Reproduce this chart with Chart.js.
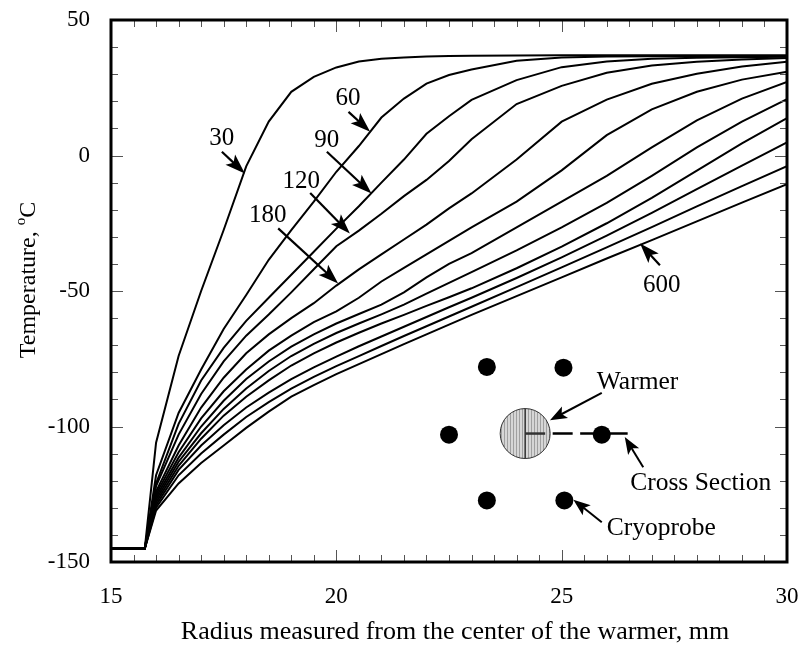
<!DOCTYPE html>
<html><head><meta charset="utf-8">
<script src="https://cdn.jsdelivr.net/npm/chart.js@4/dist/chart.umd.min.js"></script>
<style>html,body{margin:0;padding:0;background:#fff}#wrap{width:804px;height:652px}</style>
</head><body><div id="wrap"><canvas id="c" width="804" height="652"></canvas></div>
<script>
// ---- data (radius in mm, temperature in deg C) ----
const radiusMm = [15, 15.75, 16, 16.5, 17, 17.5, 18, 18.5, 19, 19.5, 20, 20.5, 21, 21.5, 22, 22.5, 23, 24, 25, 26, 27, 28, 29, 30];
const temp030 = [-145,-145,-106,-74,-50,-27.5,-4,12.5,23.5,29,32.5,34.7,35.7,36.2,36.5,36.7,36.8,36.9,37,37,37,37,37,37];
const temp060 = [-145,-145,-118,-95,-79,-64,-51.5,-38.5,-27.5,-17,-6,3.5,14,21,26.5,29.7,31.7,35,36.2,36.5,36.6,36.7,36.7,36.7];
const temp090 = [-145,-145,-121,-99,-83,-71,-61,-52.5,-44,-35.5,-27,-18.7,-10,-1.5,8,14.5,20.5,27.8,32.6,34.7,35.7,36.1,36.3,36.4];
const temp120 = [-145,-145,-122,-103,-88,-76,-66.5,-58.7,-50.5,-42,-33.5,-27.7,-21.5,-15,-9,-2,6,19,25.7,30.5,33.2,34.6,35.4,36];
const temp180 = [-145,-145,-124,-107,-93,-82,-73,-66,-60,-54.5,-48,-42,-36.5,-31,-25.5,-19.5,-14,-1.5,12.5,20.6,26.5,30.2,32.8,34.6];
const temp240 = [-145,-145,-125,-109.5,-97,-87,-79,-72,-66.5,-61.5,-57.5,-52.5,-46.5,-41.5,-36.5,-31.5,-26.5,-17,-5.5,7.5,17,23.5,28,30.9];
const temp300 = [-145,-145,-126,-111.5,-100,-90.5,-82.5,-76,-70.5,-66,-62,-58.5,-55,-50.5,-45,-40,-36,-26.5,-17,-7.5,3,13,21,27.1];
const temp360 = [-145,-145,-127,-113,-102.5,-93.5,-86,-79.5,-74,-69.5,-65.5,-62,-58.6,-55,-51,-47,-43,-35,-26.5,-17.5,-7.5,3,12.5,20.8];
const temp420 = [-145,-145,-128,-114.5,-104.5,-96,-89,-83,-77.5,-73,-69,-65.4,-62,-58.8,-55.5,-52.3,-49,-41.6,-33.6,-25,-15.6,-5.6,4.5,13.8];
const temp480 = [-145,-145,-129,-116,-107,-99.5,-93,-87.5,-82.5,-78.2,-74.2,-70.4,-66.8,-63.2,-59.6,-56,-52.5,-45.2,-37.6,-29.6,-21.2,-12.4,-3.7,4.8];
const temp540 = [-145,-145,-130,-118,-110,-103,-96.5,-91,-86,-81.7,-77.7,-74,-70.3,-66.6,-63,-59.4,-55.8,-48.6,-41.3,-33.9,-26.4,-18.8,-11.3,-3.9];
const temp600 = [-145,-145,-131,-121,-113.5,-107,-100.5,-94.5,-89,-84.7,-80.7,-77,-73.3,-69.6,-66,-62.4,-58.8,-51.9,-45,-38,-31.2,-24.3,-17.4,-10.6];
const timeLabels = ['30','60','90','120','180','240','300','360','420','480','540','600'];
const xTickValues = [15, 20, 25, 30];
const yTickValues = [-150, -100, -50, 0, 50];
const xTitle = 'Radius measured from the center of the warmer, mm';
const yTitleMain = 'Temperature, ';
const yTitleSup = 'o';
const yTitleUnit = 'C';

const series = [temp030,temp060,temp090,temp120,temp180,temp240,temp300,temp360,temp420,temp480,temp540,temp600];
const FONT = "'Liberation Serif', 'Times New Roman', serif";

// annotation layout (in data units of the axes)
const curveNotes = [
  {text:'30',  tx:17.46, ty:6.4,   ax:[17.46,1.4,  17.97,-6.6]},
  {text:'60',  tx:20.26, ty:21.2,  ax:[20.27,16.1, 20.75,8.8]},
  {text:'90',  tx:19.79, ty:5.7,   ax:[19.79,1.4,  20.78,-14.0]},
  {text:'120', tx:19.22, ty:-9.7,  ax:[19.42,-13.8,20.30,-28.8]},
  {text:'180', tx:18.48, ty:-22.0, ax:[18.71,-26.9,20.04,-47.2]},
  {text:'600', tx:27.22, ty:-47.9, ax:[27.18,-40.5,26.74,-32.5]}
];

function arrow(ctx, x1, y1, x2, y2, headLen, headW, lw) {
  const ang = Math.atan2(y2 - y1, x2 - x1);
  const c = Math.cos(ang), s = Math.sin(ang);
  const bx = x2 - c * headLen, by = y2 - s * headLen;
  ctx.lineWidth = lw; ctx.lineCap = 'butt';
  ctx.beginPath(); ctx.moveTo(x1, y1); ctx.lineTo(x2 - c * headLen * 0.6, y2 - s * headLen * 0.6); ctx.stroke();
  ctx.beginPath();
  ctx.moveTo(x2, y2);
  ctx.lineTo(bx - s * headW, by + c * headW);
  ctx.lineTo(x2 - c * headLen * 0.78, y2 - s * headLen * 0.78);
  ctx.lineTo(bx + s * headW, by - c * headW);
  ctx.closePath(); ctx.fill();
}

const decor = {
  id: 'decor',
  afterDraw(chart) {
    const ctx = chart.ctx, xa = chart.scales.x, ya = chart.scales.y, ca = chart.chartArea;
    const X = v => xa.getPixelForValue(v), Y = v => ya.getPixelForValue(v);
    ctx.save();
    // inner ticks
    ctx.strokeStyle = '#555'; ctx.lineWidth = 1;
    for (let i = 0; i <= 30; i++) {
      const v = 15 + i * 0.5, L = (i % 10 === 0) ? 12 : 7, px = Math.round(X(v)) + 0.5;
      ctx.beginPath(); ctx.moveTo(px, ca.bottom); ctx.lineTo(px, ca.bottom - L);
      ctx.moveTo(px, ca.top); ctx.lineTo(px, ca.top + L); ctx.stroke();
    }
    for (let i = 0; i <= 20; i++) {
      const v = -150 + i * 10, L = (i % 5 === 0) ? 12 : 7, py = Math.round(Y(v)) + 0.5;
      ctx.beginPath(); ctx.moveTo(ca.left, py); ctx.lineTo(ca.left + L, py);
      ctx.moveTo(ca.right, py); ctx.lineTo(ca.right - L, py); ctx.stroke();
    }
    // frame
    ctx.strokeStyle = '#000'; ctx.lineWidth = 3;
    ctx.strokeRect(ca.left, ca.top, ca.right - ca.left, ca.bottom - ca.top);

    // axis titles
    ctx.fillStyle = '#000';
    ctx.font = '26px ' + FONT; ctx.textAlign = 'center'; ctx.textBaseline = 'middle';
    ctx.fillText(xTitle, 455, 632);
    ctx.save();
    ctx.translate(27, 280); ctx.rotate(-Math.PI / 2);
    ctx.font = '24px ' + FONT;
    const w1 = ctx.measureText(yTitleMain).width;
    ctx.font = '15px ' + FONT; const w2 = ctx.measureText(yTitleSup).width;
    ctx.font = '24px ' + FONT; const w3 = ctx.measureText(yTitleUnit).width;
    let sx = -(w1 + w2 + w3) / 2;
    ctx.textAlign = 'left'; ctx.textBaseline = 'alphabetic';
    ctx.fillText(yTitleMain, sx, 8);
    ctx.font = '15px ' + FONT; ctx.fillText(yTitleSup, sx + w1, -2);
    ctx.font = '24px ' + FONT; ctx.fillText(yTitleUnit, sx + w1 + w2, 8);
    ctx.restore();

    // curve labels with arrows
    ctx.font = '25px ' + FONT; ctx.textAlign = 'center'; ctx.textBaseline = 'middle';
    ctx.strokeStyle = '#000'; ctx.fillStyle = '#000';
    curveNotes.forEach(n => {
      ctx.fillText(n.text, X(n.tx), Y(n.ty));
      arrow(ctx, X(n.ax[0]), Y(n.ax[1]), X(n.ax[2]), Y(n.ax[3]), 20, 7, 2.2);
    });

    // inset: warmer and cryoprobes
    const wc = {x: X(24.19), y: Y(-102.6)}, wr = 25;
    ctx.strokeStyle = '#000'; ctx.lineWidth = 2.5; ctx.setLineDash([20, 7.5]);
    ctx.beginPath(); ctx.moveTo(wc.x, wc.y); ctx.lineTo(X(26.48), wc.y); ctx.stroke();
    ctx.setLineDash([]);
    const pc = document.createElement('canvas'); pc.width = 3; pc.height = 3;
    const pctx = pc.getContext('2d');
    pctx.fillStyle = '#d6d6d6'; pctx.fillRect(0, 0, 3, 3);
    pctx.fillStyle = '#a0a0a0'; pctx.fillRect(0, 0, 1, 3);
    ctx.fillStyle = ctx.createPattern(pc, 'repeat');
    ctx.beginPath(); ctx.arc(wc.x, wc.y, wr, 0, Math.PI * 2); ctx.fill();
    ctx.strokeStyle = '#333'; ctx.lineWidth = 1; ctx.stroke();
    ctx.lineWidth = 1.5; ctx.beginPath(); ctx.moveTo(wc.x, wc.y - wr); ctx.lineTo(wc.x, wc.y + wr); ctx.stroke();
    ctx.lineWidth = 2.5; ctx.beginPath(); ctx.moveTo(wc.x, wc.y); ctx.lineTo(wc.x + 20, wc.y); ctx.stroke();
    ctx.fillStyle = '#000';
    [[23.34,-78.0],[25.04,-78.3],[22.50,-103.0],[25.89,-103.0],[23.34,-127.3],[25.06,-127.3]].forEach(p => {
      ctx.beginPath(); ctx.arc(X(p[0]), Y(p[1]), 9, 0, Math.PI * 2); ctx.fill();
    });
    ctx.font = '25.5px ' + FONT; ctx.textAlign = 'left'; ctx.textBaseline = 'middle';
    ctx.fillText('Warmer', X(25.78), Y(-83.6));
    ctx.fillText('Cross Section', X(26.52), Y(-121.1));
    ctx.fillText('Cryoprobe', X(26.0), Y(-137.7));
    ctx.strokeStyle = '#000';
    arrow(ctx, X(25.89), Y(-87.6), X(24.74), Y(-97.7), 17, 6.5, 2);
    arrow(ctx, X(26.81), Y(-115.0), X(26.40), Y(-103.9), 17, 6.5, 2);
    arrow(ctx, X(25.89), Y(-135.3), X(25.26), Y(-127.0), 17, 6.5, 2);
    ctx.restore();
  }
};

new Chart(document.getElementById('c'), {
  type: 'scatter',
  data: {
    datasets: series.map((arr, i) => ({
      label: timeLabels[i],
      data: radiusMm.map((r, j) => ({x: r, y: arr[j]})),
      showLine: true, borderColor: '#000', borderWidth: 2, pointRadius: 0, tension: 0, fill: false
    }))
  },
  options: {
    responsive: false, animation: false, devicePixelRatio: 1,
    layout: {padding: {left: 0, top: 20, right: 17, bottom: 0}},
    plugins: {legend: {display: false}, tooltip: {enabled: false}},
    scales: {
      x: {
        type: 'linear', min: 15, max: 30,
        grid: {display: false, drawTicks: false}, border: {display: false},
        afterBuildTicks: s => { s.ticks = xTickValues.map(v => ({value: v})); },
        afterFit: s => { s.height = 90; s.paddingLeft = 0; s.paddingRight = 0; },
        ticks: {color: '#000', font: {family: FONT, size: 23}, padding: 21, maxRotation: 0}
      },
      y: {
        type: 'linear', min: -150, max: 50,
        grid: {display: false, drawTicks: false}, border: {display: false},
        afterBuildTicks: s => { s.ticks = yTickValues.map(v => ({value: v})); },
        afterFit: s => { s.width = 111; s.paddingTop = 0; s.paddingBottom = 0; },
        ticks: {color: '#000', font: {family: FONT, size: 23}, padding: 21}
      }
    }
  },
  plugins: [decor]
});
</script></body></html>
